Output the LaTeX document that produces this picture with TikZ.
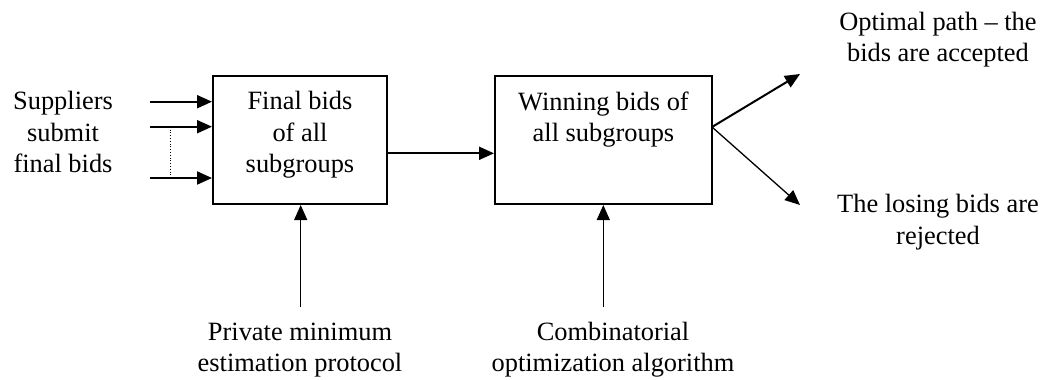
\documentclass[tikz,border=0pt]{standalone}
\usepackage{fontspec}
\setmainfont{Liberation Serif}
\usetikzlibrary{arrows.meta}
\begin{document}
\begin{tikzpicture}[x=1pt,y=-1pt,
  every node/.style={font=\fontsize{26.4}{31.7}\selectfont, inner sep=0pt},
  txt/.style={align=center, anchor=base},
  stage/.style={draw, line width=2pt, minimum width=174pt, minimum height=128pt},
  flow/.style={line width=2pt, -{Triangle[length=15pt,width=13pt]}},
  thinflow/.style={line width=1.3pt, -{Triangle[length=15pt,width=13pt]}}]
\useasboundingbox (0,0) rectangle (1047,380);

% processing stages
\node[stage] (b1) at (300,140) {};
\node[stage, minimum width=217pt] (b2) at (603.5,140) {};
% multi-line texts are placed by the baseline of their last line
\node[txt] (t1) at (300,172.7) {Final bids\\of all\\subgroups};
\node[txt] (t2) at (603.5,141.7) {Winning bids of\\all subgroups};

% inputs and outputs
\node[txt] (sup) at (63,172.7) {Suppliers\\submit\\final bids};
\node[txt] (pmep) at (300,371.7) {Private minimum\\estimation protocol};
\node[txt] (coa) at (613,371.7) {Combinatorial\\optimization algorithm};
\node[txt] (acc) at (938,61.7) {Optimal path -- the\\bids are accepted};
\node[txt] (rej) at (938,244) {The losing bids are\\rejected};

% free ends of the connectors
\coordinate (s1) at (150,101.7);
\coordinate (s2) at (150,126.7);
\coordinate (s3) at (150,178);
\coordinate (p1) at (300.7,306.7);
\coordinate (p2) at (603.3,306.7);
\coordinate (fork) at (712,127);
\coordinate (up) at (800,74);
\coordinate (down) at (800,205);

% bids entering the first stage
\draw[flow] (s1) -- (s1 -| b1.west);
\draw[flow] (s2) -- (s2 -| b1.west);
\draw[flow] (s3) -- (s3 -| b1.west);
\draw[line width=0.8pt, dotted] (170.7,126.7) -- (170.7,178);

% stage to stage
\draw[flow] (b1.east |- 0,153.3) -- (b2.west |- 0,153.3);

% supporting methods
\draw[thinflow] (p1) -- (p1 |- b1.south);
\draw[thinflow] (p2) -- (p2 |- b2.south);

% results
\draw[flow] (fork) -- (up);
\draw[thinflow] (fork) -- (down);
\end{tikzpicture}
\end{document}
